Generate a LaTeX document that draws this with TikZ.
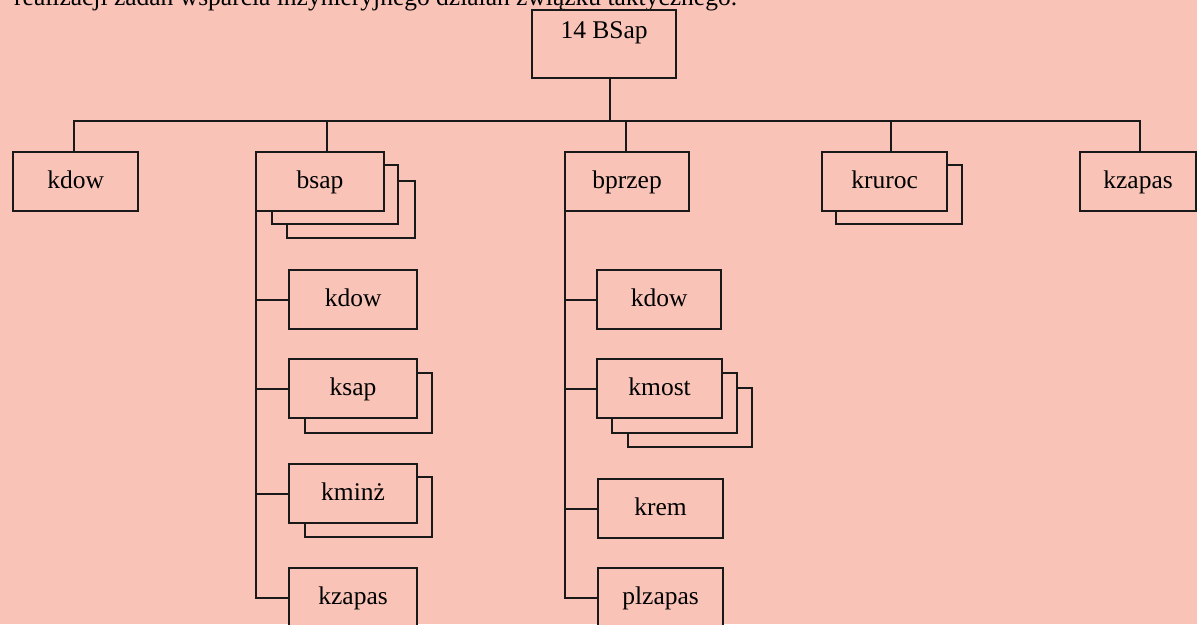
\documentclass[tikz,border=0pt]{standalone}
\usepackage{fontspec}
\setmainfont{Liberation Serif}
\definecolor{paper}{RGB}{249,196,183}
\tikzset{
  x=1pt, y=-1pt,
  conn/.style={line width=2.2pt, line cap=rect, draw=black!90},
  ubox/.style={draw=black!90, line width=2.2pt, fill=paper, inner sep=0pt, anchor=north west,
    text height=36pt, text depth=23pt, font=\fontsize{25.5}{30}\selectfont},
  sbox/.style={draw=black!90, line width=2.2pt, fill=paper}
}
\begin{document}
\begin{tikzpicture}
\useasboundingbox (0,0) rectangle (1197,624);
\clip (0,0) rectangle (1197,624);
\fill[paper] (0,0) rectangle (1197,624);

% cut-off text line above the chart
\node[anchor=base west, inner sep=0pt, font=\fontsize{25.5}{30}\selectfont] (head) at (14,5)
  {realizacji zadań wsparcia inżynieryjnego działań związku taktycznego.};

% root
\node[ubox, minimum width=144pt, text height=28pt, text depth=40pt] (root) at (531,9) {14 BSap};

% top row
\node[ubox, minimum width=125pt] (kdowA) at (12,151) {kdow};
\draw[sbox] (287,181) rectangle (415,238);
\draw[sbox] (272,165) rectangle (398,224);
\node[ubox, minimum width=128pt] (bsap) at (255,151) {bsap};
\node[ubox, minimum width=124pt] (bprzep) at (564,151) {bprzep};
\draw[sbox] (836,165) rectangle (962,224);
\node[ubox, minimum width=125pt] (kruroc) at (821,151) {kruroc};
\node[ubox, minimum width=116pt] (kzapasA) at (1079,151) {kzapas};

% bus
\coordinate (d0) at (610,121);
\coordinate (d1) at (74,121);
\coordinate (d2) at (327,121);
\coordinate (d3) at (626,121);
\coordinate (d4) at (891,121);
\coordinate (d5) at (1140,121);
\draw[conn] (root.south -| d0) -- (d0);
\draw[conn] (kdowA.north -| d1) -- (d1) -- (d5) -- (kzapasA.north -| d5);
\draw[conn] (d2) -- (bsap.north -| d2);
\draw[conn] (d3) -- (bprzep.north -| d3);
\draw[conn] (d4) -- (kruroc.north -| d4);

% bsap children
\node[ubox, minimum width=128pt] (kdowB) at (288,269) {kdow};
\draw[sbox] (305,373) rectangle (432,433);
\node[ubox, minimum width=128pt] (ksap) at (288,358) {ksap};
\draw[sbox] (305,477) rectangle (432,537);
\node[ubox, minimum width=128pt] (kminz) at (288,463) {kminż};
\node[ubox, minimum width=128pt] (kzapasB) at (288,567) {kzapas};
\coordinate (t1) at (256,209);
\draw[conn] (t1) |- (kzapasB.west);
\draw[conn] (kdowB.west) -- (kdowB.west -| t1);
\draw[conn] (ksap.west) -- (ksap.west -| t1);
\draw[conn] (kminz.west) -- (kminz.west -| t1);

% bprzep children
\node[ubox, minimum width=124pt] (kdowC) at (596,269) {kdow};
\draw[sbox] (628,388) rectangle (752,447);
\draw[sbox] (612,373) rectangle (737,433);
\node[ubox, minimum width=125pt] (kmost) at (596,358) {kmost};
\node[ubox, minimum width=125pt] (krem) at (597,478) {krem};
\node[ubox, minimum width=125pt] (plzapas) at (597,567) {plzapas};
\coordinate (t2) at (565,209);
\draw[conn] (t2) |- (plzapas.west);
\draw[conn] (kdowC.west) -- (kdowC.west -| t2);
\draw[conn] (kmost.west) -- (kmost.west -| t2);
\draw[conn] (krem.west) -- (krem.west -| t2);
\end{tikzpicture}
\end{document}
